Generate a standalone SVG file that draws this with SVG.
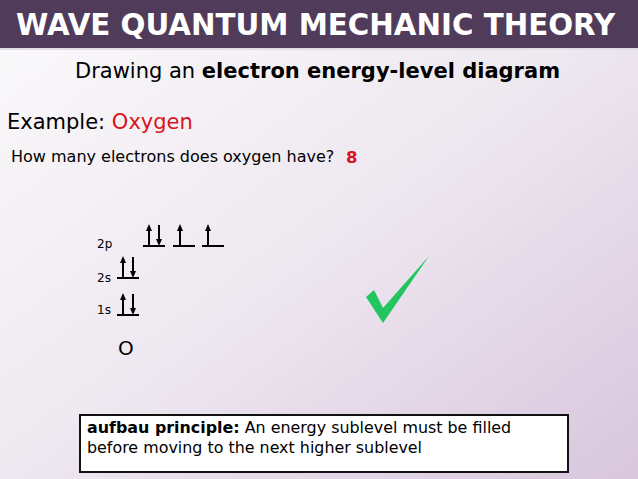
<svg xmlns="http://www.w3.org/2000/svg" width="638" height="479" viewBox="0 0 638 479">
  <defs>
    <linearGradient id="bg" x1="0" y1="0" x2="1" y2="1">
      <stop offset="0" stop-color="#fbfafb"/>
      <stop offset="0.5" stop-color="#eee8f0"/>
      <stop offset="1" stop-color="#d8c6dd"/>
    </linearGradient>
    <style>
      .t { font-family: "DejaVu Sans", Verdana, sans-serif; fill: #000; }
      .b { font-weight: bold; }
      .red { fill: #d8141c; }
      .lvl { stroke: #000; stroke-width: 2; fill: none; }
      .ar { stroke: #000; stroke-width: 2; fill: none; }
      .hd { fill: #000; stroke: none; }
    </style>
  </defs>

  <rect x="0" y="0" width="638" height="479" fill="url(#bg)"/>

  <g id="header">
    <rect x="0" y="0" width="638" height="48" fill="#513b5b"/>
    <rect x="0" y="48" width="638" height="2" fill="#e3dde5"/>
    <text class="t b" x="16" y="35" font-size="29.3" fill="#ffffff" style="fill:#ffffff">WAVE QUANTUM MECHANIC THEORY</text>
  </g>

  <g id="subtitle">
    <text class="t" x="75" y="78" font-size="21">Drawing an <tspan class="b">electron energy-level diagram</tspan></text>
  </g>

  <g id="example">
    <text class="t" x="7" y="129" font-size="21">Example: <tspan class="red">Oxygen</tspan></text>
  </g>

  <g id="question">
    <text class="t" x="11" y="162" font-size="16">How many electrons does oxygen have?</text>
    <text class="t b red" x="346" y="163" font-size="16.5">8</text>
  </g>

  <g id="level-2p">
    <text class="t" x="97" y="248" font-size="12">2p</text>
    <path class="lvl" d="M143 246H165 M173 246H195 M202 246H224"/>
    <path class="ar" d="M149 246V230 M159 225V240 M180 246V230 M208 246V230"/>
    <path class="hd" d="M146 231L152 231L149 224Z M156 239L162 239L159 246Z M177 231L183 231L180 224Z M205 231L211 231L208 224Z"/>
  </g>

  <g id="level-2s">
    <text class="t" x="97" y="282" font-size="12">2s</text>
    <path class="lvl" d="M117 278H139"/>
    <path class="ar" d="M123 278V262 M133 257V272"/>
    <path class="hd" d="M120 263L126 263L123 256Z M130 271L136 271L133 278Z"/>
  </g>

  <g id="level-1s">
    <text class="t" x="97" y="314" font-size="12">1s</text>
    <path class="lvl" d="M117 315H139"/>
    <path class="ar" d="M123 315V299 M133 294V309"/>
    <path class="hd" d="M120 300L126 300L123 293Z M130 308L136 308L133 315Z"/>
  </g>

  <g id="element">
    <text class="t" x="118" y="355" font-size="20">O</text>
  </g>

  <g id="checkmark">
    <polygon points="366,297 374,290 383,308 429,256 383,323" fill="#22c55e"/>
  </g>

  <g id="note">
    <rect x="80" y="415" width="488" height="57" fill="#ffffff" stroke="#111" stroke-width="2"/>
    <text class="t" x="87" y="433" font-size="15.9"><tspan class="b">aufbau principle:</tspan> An energy sublevel must be filled</text>
    <text class="t" x="87" y="453" font-size="15.9">before moving to the next higher sublevel</text>
  </g>

  <g id="connectors"></g>
</svg>
